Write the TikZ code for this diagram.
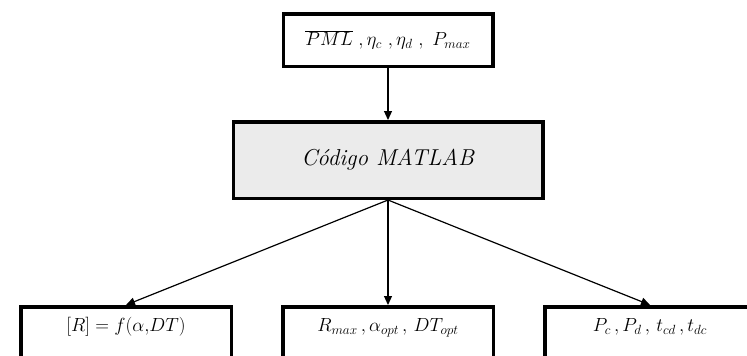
\RequirePackage{fix-cm}
\documentclass[tikz,border=0pt]{standalone}
\usepackage{tikz}
\usetikzlibrary{positioning,arrows.meta}
\definecolor{codefill}{HTML}{EBEBEB}

\begin{document}
\begin{tikzpicture}[
      inbox/.style={draw=black, line width=3.5pt, fill=white, align=center, minimum width=209.5pt,
                    minimum height=52.5pt, inner sep=0pt, font=\fontsize{19}{23}\selectfont},
      codebox/.style={draw=black, line width=3.5pt, fill=codefill, align=center, minimum width=309.5pt,
                      minimum height=76.5pt, inner sep=0pt, font=\fontsize{23}{27}\selectfont},
      outbox/.style={draw=black, line width=3.5pt, fill=white, align=center, minimum width=210.5pt,
                     text height=17pt, text depth=32pt, inner xsep=0pt, inner ysep=8pt,
                     font=\fontsize{19}{23}\selectfont},
      arr/.style={-{Triangle[length=9pt,width=8pt]}, black, line width=1.2pt}]
    \useasboundingbox (0,0) rectangle (747pt,-356pt);
    \clip (0,0) rectangle (747pt,-356pt);
    \node[inbox] (inputs) at (388pt,-40pt) {$\overline{PML}\ ,\eta_c\ ,\eta_d\ ,\ P_{max}$};
    \node[codebox, below=52pt of inputs.south, anchor=north] (code) {\textit{Código MATLAB}};
    \node[outbox, below=105pt of code.south, anchor=north] (out2) {$R_{max}\,,\alpha_{opt}\,,\,DT_{opt}$};
    \node[outbox, left=48pt of out2] (out1) {$[R]=f(\alpha{,}DT)$};
    \node[outbox, right=48pt of out2] (out3) {$P_c\,,P_d\,,\,t_{cd}\,,t_{dc}$};
    \draw[arr] (inputs) -- (code);
    \draw[arr] (code.south) -- (out1.north); \draw[arr] (code.south) -- (out2.north); \draw[arr] (code.south) -- (out3.north);
  \end{tikzpicture}
\end{document}
